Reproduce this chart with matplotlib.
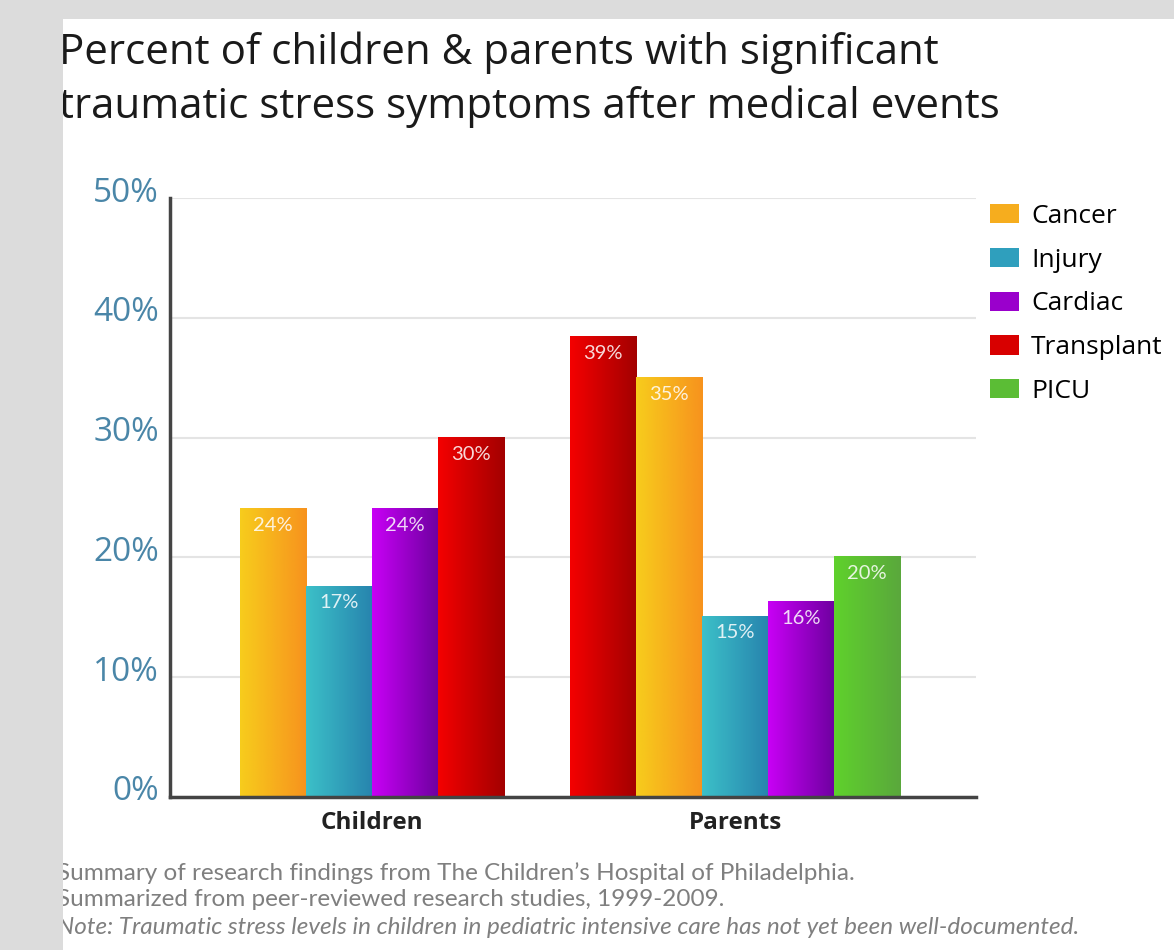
import matplotlib
matplotlib.use('Agg')
import matplotlib.pyplot as plt
import matplotlib.transforms as mtransforms
from matplotlib.colors import LinearSegmentedColormap
from matplotlib.patches import Rectangle, Patch
import numpy as np

# ---------------- data ----------------
categories = ['Cancer', 'Injury', 'Cardiac', 'Transplant', 'PICU']
groups = ['Children', 'Parents']

children_series = ['Cancer', 'Injury', 'Cardiac', 'Transplant']
children_values = [24.1, 17.6, 24.1, 30.0]
children_labels = ['24%', '17%', '24%', '30%']

parents_series = ['Transplant', 'Cancer', 'Injury', 'Cardiac', 'PICU']
parents_values = [38.4, 35.0, 15.1, 16.3, 20.1]
parents_labels = ['39%', '35%', '15%', '16%', '20%']

yticks = [0, 10, 20, 30, 40, 50]
ytick_labels = ['0%', '10%', '20%', '30%', '40%', '50%']

title = ('Percent of children & parents with significant\n'
         'traumatic stress symptoms after medical events')
notes = ['Summary of research findings from The Children\u2019s Hospital of Philadelphia.',
         'Summarized from peer-reviewed research studies, 1999-2009.',
         'Note: Traumatic stress levels in children in pediatric intensive care has not yet been well-documented.']

# left (light) and right (dark) colour of each gradient bar
grad = {
    'Cancer': ('#f7cc1c', '#f7931e'),
    'Injury': ('#3cc0c8', '#2784ae'),
    'Cardiac': ('#c800f5', '#6e00a0'),
    'Transplant': ('#f40000', '#a30000'),
    'PICU': ('#5fd12c', '#5aa83c'),
}
swatch = {'Cancer': '#f6ad1e', 'Injury': '#2f9fbd', 'Cardiac': '#9a00cc',
          'Transplant': '#d80000', 'PICU': '#5bbd35'}

plt.rcParams['font.family'] = ['Open Sans', 'DejaVu Sans']

W, H = 1174, 950
fig = plt.figure(figsize=(W / 100, H / 100), dpi=100)
fig.patch.set_facecolor('white')

ax = fig.add_axes([170 / W, (H - 797) / H, (976 - 170) / W, (797 - 198) / H])

def draw_bars(start, series, values, labels):
    for i, (s, v, lab) in enumerate(zip(series, values, labels)):
        x = start + i
        cmap = LinearSegmentedColormap.from_list(s, grad[s])
        ax.imshow(np.linspace(0, 1, 64)[np.newaxis, :], cmap=cmap, aspect='auto',
                  extent=(x - 0.5, x + 0.5, 0, v), zorder=3, interpolation='bilinear')
        ax.annotate(lab, (x, v), xytext=(0, -6), textcoords='offset points',
                    ha='center', va='top', color='white', alpha=0.85,
                    fontsize=14.5, family=['Lato', 'DejaVu Sans'], zorder=5)

draw_bars(0, children_series, children_values, children_labels)
draw_bars(5, parents_series, parents_values, parents_labels)

ax.set_xlim(-1.56, 10.65)
ax.set_ylim(0, 50)
ax.set_yticks(yticks)
ax.set_yticklabels(ytick_labels, color='#4a86a8', fontsize=24)
ax.tick_params(axis='y', length=0, pad=8)
ax.set_xticks([1.5, 7])
ax.set_xticklabels(groups, fontsize=17.5, fontweight='bold', color='#222222')
ax.tick_params(axis='x', length=0, pad=10)
offset = mtransforms.ScaledTranslation(0, 9 / 100, fig.dpi_scale_trans)
for lab in ax.get_yticklabels():
    lab.set_transform(lab.get_transform() + offset)

ax.grid(axis='y', color='#e4e4e4', linewidth=1.5, zorder=0)
ax.set_axisbelow(True)
for side in ['top', 'right']:
    ax.spines[side].set_visible(False)
for side in ['left', 'bottom']:
    ax.spines[side].set_color('#444444')
    ax.spines[side].set_linewidth(2.5)
    ax.spines[side].set_zorder(6)

# legend
handles = [Patch(facecolor=swatch[c], label=c) for c in categories]
fig.legend(handles=handles, loc='upper left', bbox_to_anchor=(990 / W, 1 - 204 / H),
           frameon=False, fontsize=19, handlelength=1.1, handleheight=0.75,
           handletextpad=0.45, labelspacing=0.71, borderpad=0, borderaxespad=0)

# title
fig.text(59 / W, 1 - 32 / H, title, ha='left', va='top', fontsize=30.3,
         color='#1a1a1a', linespacing=1.33)

# notes
for i, line in enumerate(notes):
    fig.text(57 / W, 1 - (873 + 27 * i) / H, line, ha='left', va='center',
             fontsize=17.5, color='#7f7f7f',
             family=['Lato', 'DejaVu Sans'],
             style='italic' if i == 2 else 'normal')

# grey frame around the white panel
fig.add_artist(Rectangle((0, 0), 63 / W, 1, transform=fig.transFigure,
                         facecolor='#dcdcdc', edgecolor='none', zorder=20))
fig.add_artist(Rectangle((0, 1 - 19 / H), 1, 19 / H, transform=fig.transFigure,
                         facecolor='#dcdcdc', edgecolor='none', zorder=20))

fig.savefig('out.png', dpi=100)
